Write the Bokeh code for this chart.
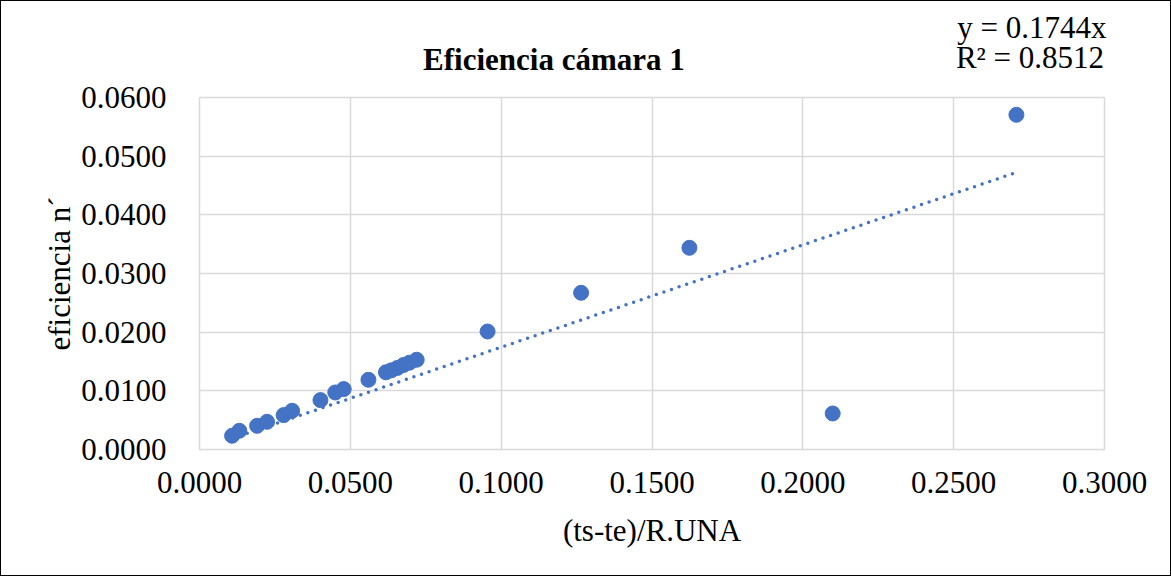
from bokeh.plotting import figure
from bokeh.models import Range1d, FixedTicker, NumeralTickFormatter, Label, ColumnDataSource
from bokeh.embed import file_html
from bokeh.resources import INLINE

# data
x_vals = [0.0108, 0.0132, 0.0191, 0.0224, 0.0279, 0.0307, 0.0401, 0.0450, 0.0478, 0.0560,
          0.0618, 0.0636, 0.0656, 0.0676, 0.0696, 0.0720, 0.0955, 0.1265, 0.1624, 0.2099, 0.2708]
y_vals = [0.00234, 0.00319, 0.00404, 0.00472, 0.00586, 0.00660, 0.00842, 0.00972, 0.0103, 0.01188,
          0.01316, 0.0135, 0.0139, 0.0144, 0.0148, 0.0153, 0.02011, 0.02671, 0.03438, 0.00614, 0.05705]
x_ticks = [0.0, 0.05, 0.1, 0.15, 0.2, 0.25, 0.3]
y_ticks = [0.0, 0.01, 0.02, 0.03, 0.04, 0.05, 0.06]
slope = 0.1744
r2 = 0.8512
title_text = "Eficiencia cámara 1"
x_label = "(ts-te)/R.UNA"
y_label = "eficiencia n´"

FONT = "Liberation Serif"
BLUE = "#4472C4"
GRID = "#d9d9d9"

p = figure(frame_width=905, frame_height=352, title=f"y = {slope:.4f}x",
           min_border_left=198, min_border_right=66, min_border_top=96, min_border_bottom=126,
           x_range=Range1d(x_ticks[0], x_ticks[-1]), y_range=Range1d(y_ticks[0], y_ticks[-1]),
           output_backend="svg", toolbar_location=None)
p.styles = {"border": "1px solid #000000"}
p.outline_line_color = GRID
p.outline_line_width = 1.5
p.background_fill_color = "white"
p.border_fill_color = "white"

# first line of the trendline equation (top right)
p.title.text_font = FONT
p.title.text_font_size = "31px"
p.title.text_font_style = "normal"
p.title.text_color = "black"
p.title.align = "right"
p.title.offset = -2
p.title.standoff = -35
p.title.vertical_align = "bottom"

p.xaxis.ticker = FixedTicker(ticks=x_ticks)
p.yaxis.ticker = FixedTicker(ticks=y_ticks)
p.xaxis.formatter = NumeralTickFormatter(format="0.0000")
p.yaxis.formatter = NumeralTickFormatter(format="0.0000")
for ax in (p.xaxis[0], p.yaxis[0]):
    ax.axis_line_color = None
    ax.major_tick_line_color = None
    ax.minor_tick_line_color = None
    ax.major_label_text_font = FONT
    ax.major_label_text_font_size = "31px"
    ax.major_label_text_color = "black"
    ax.axis_label_text_font = FONT
    ax.axis_label_text_font_size = "31px"
    ax.axis_label_text_font_style = "normal"
    ax.axis_label_text_color = "black"
p.xaxis.axis_label = x_label
p.yaxis.axis_label = y_label
p.xaxis.major_label_standoff = 16
p.yaxis.major_label_standoff = 27
p.xaxis.axis_label_standoff = 17
p.yaxis.axis_label_standoff = 1

p.grid.grid_line_color = GRID
p.grid.grid_line_width = 1.5

# trendline through origin (linear fit shown in the chart)
x0, x1 = min(x_vals), max(x_vals)
p.line([x0, x1], [slope * x0, slope * x1], line_color=BLUE, line_width=3.5,
       line_dash="0 8", line_cap="round")

src = ColumnDataSource(dict(x=x_vals, y=y_vals))
p.scatter("x", "y", source=src, size=15, fill_color=BLUE, line_color=BLUE)

# chart title and second equation line (top panel, positioned with the data scales)
p.add_layout(Label(x=0.1175, y=0.0665, text=title_text,
                   text_font=FONT, text_font_size="31px", text_font_style="bold",
                   text_align="center", text_baseline="alphabetic", text_color="black"), "above")
p.add_layout(Label(x=0.2753, y=0.0668, text=f"R² = {r2:.4f}",
                   text_font=FONT, text_font_size="31px", text_align="center",
                   text_baseline="alphabetic", text_color="black"), "above")

open("out.html", "w").write(file_html(p, INLINE))
